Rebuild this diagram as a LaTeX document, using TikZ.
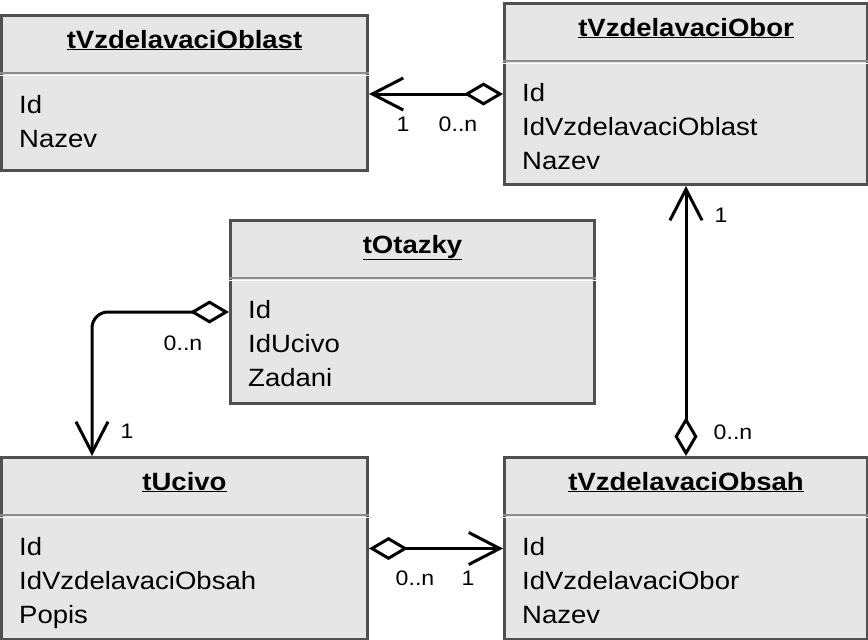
\documentclass[tikz,border=0pt]{standalone}
\usepackage{fontspec}
\setmainfont{Liberation Sans}[FakeStretch=1.1]
\usetikzlibrary{positioning}
\usetikzlibrary{arrows.meta}

\definecolor{boxfill}{HTML}{E6E6E6}
\definecolor{boxline}{HTML}{505050}
\definecolor{sepline}{HTML}{8C8C8C}

\tikzset{
  tbl/.style={draw=boxline, fill=boxfill, line width=3pt, anchor=north west, inner sep=0pt},
  ttl/.style={anchor=base, inner sep=0pt, font=\fontsize{25}{25}\selectfont\bfseries},
  attr/.style={anchor=base west, inner sep=0pt, align=left, font=\fontsize{25}{34}\selectfont},
  mult/.style={inner sep=0pt, font=\fontsize{21}{21}\selectfont},
  assoc/.style={line width=3pt, {Diamond[open,length=39pt,width=23pt,line width=3pt]}-{Straight Barb[length=31pt,width=32pt,line width=3pt]}},
}

\begin{document}
\begin{tikzpicture}[x=1pt,y=-1pt]
\useasboundingbox (0,0) rectangle (868,640);

% tables
\node[tbl, minimum width=366pt, minimum height=155pt] (oblast) at (0,14) {};
\node[tbl, minimum width=363pt, minimum height=181pt] (obor) at (503,2) {};
\node[tbl, minimum width=364pt, minimum height=183pt] (otazky) at (229,219) {};
\node[tbl, minimum width=366pt, minimum height=182pt] (ucivo) at (0,456) {};
\node[tbl, minimum width=363pt, minimum height=182pt] (obsah) at (503,456) {};

\foreach \t in {oblast,obor,otazky,ucivo,obsah}{
  \draw[sepline, line width=2pt] ([yshift=-59pt]\t.north west) -- ([yshift=-59pt]\t.north east);
  \draw[white, line width=1pt] ([yshift=-61pt]\t.north west) -- ([yshift=-61pt]\t.north east);
}

% base of a list is its last line
\node[ttl] (oblastT) at ([yshift=-34pt]oblast.north) {\underline{tVzdelavaciOblast}};
\node[attr] (oblastA) at ([xshift=19pt,yshift=-133pt]oblast.north west) {Id\\Nazev};

\node[ttl] (oborT) at ([yshift=-34pt]obor.north) {\underline{tVzdelavaciObor}};
\node[attr] (oborA) at ([xshift=19pt,yshift=-167pt]obor.north west) {Id\\IdVzdelavaciOblast\\Nazev};

\node[ttl] (otazkyT) at ([yshift=-34pt]otazky.north) {\underline{tOtazky}};
\node[attr] (otazkyA) at ([xshift=19pt,yshift=-167pt]otazky.north west) {Id\\IdUcivo\\Zadani};

\node[ttl] (ucivoT) at ([yshift=-34pt]ucivo.north) {\underline{tUcivo}};
\node[attr] (ucivoA) at ([xshift=19pt,yshift=-167pt]ucivo.north west) {Id\\IdVzdelavaciObsah\\Popis};

\node[ttl] (obsahT) at ([yshift=-34pt]obsah.north) {\underline{tVzdelavaciObsah}};
\node[attr] (obsahA) at ([xshift=19pt,yshift=-167pt]obsah.north west) {Id\\IdVzdelavaciObor\\Nazev};

% connectors
\coordinate (ucivoIn) at ([xshift=92pt]ucivo.north west);
\draw[assoc] (obor.west) -- (obor.west -| oblast.east);
\draw[assoc, rounded corners=16pt] (otazky.west) -| (ucivoIn);
\draw[assoc] (obsah.north) -- (obor.south);
\draw[assoc] (ucivo.east) -- (obsah.west);

% multiplicities
\node[mult] (m1) at ([shift={(34,31)}]oblast.east) {1};
\node[mult] (m2) at ([shift={(-45,30)}]obor.west) {0..n};
\node[mult] (m3) at ([shift={(-46,31)}]otazky.west) {0..n};
\node[mult] (m4) at ([shift={(35,-25)}]ucivoIn) {1};
\node[mult] (m5) at ([shift={(35,29)}]obor.south) {1};
\node[mult] (m6) at ([shift={(47,-24)}]obsah.north) {0..n};
\node[mult] (m7) at ([shift={(46,30)}]ucivo.east) {0..n};
\node[mult] (m8) at ([shift={(-35,30)}]obsah.west) {1};
\end{tikzpicture}
\end{document}
